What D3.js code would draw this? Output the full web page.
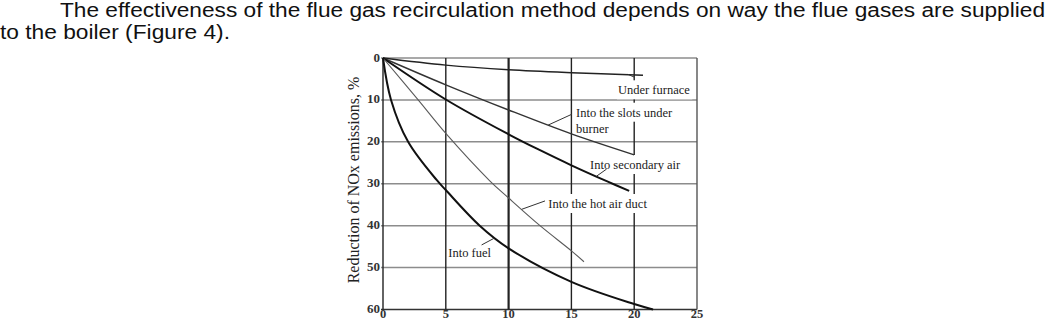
<!DOCTYPE html>
<html><head><meta charset="utf-8">
<script src="https://cdn.jsdelivr.net/npm/d3@7"></script>
<style>
html,body{margin:0;padding:0;background:#fff;}
svg{display:block;}
</style></head>
<body>
<svg id="chart" width="1047" height="321"></svg>
<script>
// ---- data (x: recirculation %, y: reduction of NOx emissions %) ----
const xTicks = [0, 5, 10, 15, 20, 25];
const yTicks = [0, 10, 20, 30, 40, 50, 60];
const paragraph = [
  "The effectiveness of the flue gas recirculation method depends on way the flue gases are supplied",
  "to the boiler (Figure 4)."
];
const underFurnace = [[0,0],[5,1.7],[10,2.8],[15,3.5],[20.7,4.1]];
const slotsUnderBurner = [[0,0],[5,6.4],[10,12.4],[15,18.1],[20,23.1]];
const secondaryAir = [[0,0],[5,9.9],[10,18.2],[12.5,22],[15,25.6],[17.9,29.5],[19.6,31.7]];
const hotAirDuct = [[0,0],[2.8,10],[5,18],[8.5,29.3],[10,33.4],[12.5,40],[15,46],[16,48.6]];
const intoFuel = [[0,0],[0.64,10],[2,20],[4.27,29.1],[5,31.5],[7.7,40],[10,45.4],[15,53.4],[20,58.7],[21.5,60]];
const seriesNames = ["Under furnace", "Into the slots under burner", "Into secondary air", "Into the hot air duct", "Into fuel"];

const svg = d3.select("#chart");
const x = d3.scaleLinear().domain([0, 25]).range([383, 697]);
const y = d3.scaleLinear().domain([0, 60]).range([58, 309.5]);

// paragraph
svg.append("text").attr("x", 60).attr("y", 17)
  .attr("font-family", "Liberation Sans, Arial, sans-serif").attr("font-size", 20)
  .attr("fill", "#111").attr("textLength", 985).attr("lengthAdjust", "spacingAndGlyphs")
  .text(paragraph[0]);
svg.append("text").attr("x", 0).attr("y", 39)
  .attr("font-family", "Liberation Sans, Arial, sans-serif").attr("font-size", 20)
  .attr("fill", "#111").attr("textLength", 230).attr("lengthAdjust", "spacingAndGlyphs")
  .text(paragraph[1]);

// gridlines
const g = svg.append("g");
g.selectAll("line.h").data(yTicks).join("line")
  .attr("x1", x(0) - 2).attr("x2", x(25))
  .attr("y1", d => y(d)).attr("y2", d => y(d))
  .attr("stroke", d => d === 60 ? "#333" : "#8c8c8c")
  .attr("stroke-width", 1.5);
g.selectAll("line.v").data(xTicks).join("line")
  .attr("x1", d => x(d)).attr("x2", d => x(d))
  .attr("y1", y(0)).attr("y2", y(60))
  .attr("stroke", d => d === 25 ? "#555" : "#222")
  .attr("stroke-width", d => d === 10 ? 2.2 : 1.4);

// tick labels
const serif = "Liberation Serif, Times New Roman, serif";
svg.append("g").selectAll("text").data(yTicks).join("text")
  .attr("x", 380).attr("y", d => y(d) + 3.5)
  .attr("text-anchor", "end").attr("font-family", serif).attr("font-size", 13)
  .attr("font-weight", "bold").attr("fill", "#333")
  .text(d => d);
svg.append("g").selectAll("text").data(xTicks).join("text")
  .attr("x", d => x(d)).attr("y", 317.5)
  .attr("text-anchor", "middle").attr("font-family", serif).attr("font-size", 12.5)
  .attr("font-weight", "bold").attr("fill", "#333")
  .text(d => d);

// axis title
svg.append("text")
  .attr("transform", "translate(359,180) rotate(-90)")
  .attr("text-anchor", "middle").attr("font-family", serif).attr("font-size", 16)
  .attr("fill", "#222")
  .text("Reduction of NOx emissions, %");

// labels (with white backing that hides grid lines)
const labels = [
  {t: "Under furnace", x: 618, y: 94.3},
  {t: "Into the slots under", x: 576, y: 116.7},
  {t: "burner", x: 576, y: 133.3},
  {t: "Into secondary air", x: 590, y: 169},
  {t: "Into the hot air duct", x: 548.3, y: 208},
  {t: "Into fuel", x: 448.3, y: 256.5}
];
const lg = svg.append("g");
const texts = lg.selectAll("text").data(labels).join("text")
  .attr("x", d => d.x).attr("y", d => d.y)
  .attr("font-family", serif).attr("font-size", 12.5).attr("fill", "#222")
  .text(d => d.t);
texts.each(function(d) { d.bb = this.getBBox(); });
lg.insert("g", "text").selectAll("rect").data(labels).join("rect")
  .attr("x", d => d.bb.x - 1).attr("y", d => d.bb.y - 3)
  .attr("width", d => d.bb.width + 3).attr("height", d => d.bb.height + 5)
  .attr("fill", "#fff");

// curves
const line = d3.line().x(d => x(d[0])).y(d => y(d[1])).curve(d3.curveCatmullRom.alpha(0.5));
const curves = [
  {d: underFurnace, c: "#222", w: 1.5},
  {d: slotsUnderBurner, c: "#333", w: 1.4},
  {d: secondaryAir, c: "#111", w: 2},
  {d: hotAirDuct, c: "#5a5a5a", w: 1.1},
  {d: intoFuel, c: "#111", w: 2}
];
svg.append("g").selectAll("path").data(curves).join("path")
  .attr("d", d => line(d.d)).attr("fill", "none")
  .attr("stroke", d => d.c).attr("stroke-width", d => d.w);

// leader lines (data units)
const leaders = [
  [[19.5, 3.9], [20, 4.55]],
  [[15.05, 13.4], [13.15, 16.0]],
  [[17.8, 26.5], [17.0, 28.2]],
  [[12.9, 34.1], [11.04, 36.1]],
  [[7.85, 44.6], [8.85, 43.0]]
];
svg.append("g").selectAll("line").data(leaders).join("line")
  .attr("x1", d => x(d[0][0])).attr("y1", d => y(d[0][1]))
  .attr("x2", d => x(d[1][0])).attr("y2", d => y(d[1][1]))
  .attr("stroke", "#333").attr("stroke-width", 1);
</script>
</body></html>
